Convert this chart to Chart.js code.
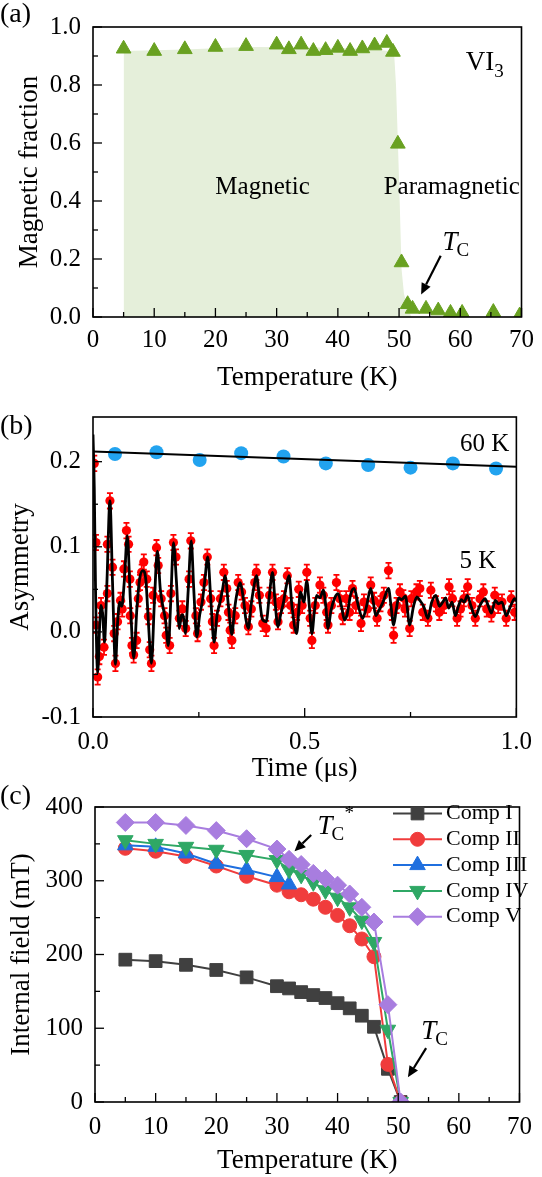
<!DOCTYPE html>
<html>
<head>
<meta charset="utf-8">
<title>VI3 muSR</title>
<script src="https://cdn.jsdelivr.net/npm/chart.js@4.4.1/dist/chart.umd.min.js"></script>
<style>
  html, body { margin: 0; padding: 0; background: #fff; }
  #page { position: relative; width: 542px; height: 1177px; overflow: hidden; }
  #page canvas { position: absolute; left: 0; }
</style>
</head>
<body>
<div id="page">
  <canvas id="panelA" width="542" height="395" style="top:0px"></canvas>
  <canvas id="panelB" width="542" height="395" style="top:390px"></canvas>
  <canvas id="panelC" width="542" height="397" style="top:780px"></canvas>
</div>
<script>
// ---------- (a) magnetic fraction vs temperature ----------
const tempA = [5, 10, 15, 20, 25, 30, 32, 34, 36, 38, 40, 42, 44, 46, 48, 49, 49.8, 50.4, 51.4, 52.2, 54.4, 56.4, 58.4, 60.3, 65.4, 69.7];
const fracA = [0.925, 0.917, 0.923, 0.931, 0.934, 0.939, 0.923, 0.939, 0.917, 0.920, 0.928, 0.917, 0.926, 0.936, 0.945, 0.914, 0.597, 0.188, 0.044, 0.028, 0.028, 0.022, 0.014, 0.014, 0.017, 0.005];
// outline of the shaded "magnetic" region
const shadeTempA = [5, 15, 25, 35, 45, 48.6, 49.2, 49.5, 49.8, 50.1, 50.4, 50.8, 51.3, 52];
const shadeFracA = [0.917, 0.922, 0.931, 0.930, 0.925, 0.916, 0.905, 0.80, 0.608, 0.40, 0.166, 0.08, 0.04, 0];
const xTicksA = [0, 10, 20, 30, 40, 50, 60, 70];
const xMinorA = [5, 15, 25, 35, 45, 55, 65];
const yTicksA = [0, 0.2, 0.4, 0.6, 0.8, 1.0];
const yMinorA = [0.1, 0.3, 0.5, 0.7, 0.9];

// ---------- (b) asymmetry vs time ----------
const time60 = [0.052, 0.15, 0.252, 0.35, 0.45, 0.55, 0.65, 0.75, 0.85, 0.952];
const asym60 = [0.209, 0.211, 0.202, 0.210, 0.206, 0.198, 0.196, 0.193, 0.198, 0.192];
const timeFit60 = [0, 1.0];
const fit60 = [0.212, 0.194];
const time5 = [
  0.003, 0.007, 0.007, 0.011, 0.015, 0.019, 0.026, 0.034, 0.034, 0.04,
  0.046, 0.05, 0.053, 0.058, 0.065, 0.069, 0.073, 0.079, 0.084, 0.087,
  0.088, 0.092, 0.096, 0.103, 0.107, 0.111, 0.115, 0.12, 0.127, 0.131,
  0.134, 0.138, 0.142, 0.15, 0.154, 0.161, 0.169, 0.173, 0.181, 0.184,
  0.19, 0.196, 0.204, 0.211, 0.219, 0.227, 0.231, 0.243, 0.247, 0.255,
  0.262, 0.27, 0.278, 0.282, 0.286, 0.293, 0.301, 0.309, 0.316, 0.32,
  0.324, 0.328, 0.336, 0.343, 0.351, 0.359, 0.367, 0.374, 0.382, 0.386,
  0.393, 0.401, 0.409, 0.417, 0.424, 0.432, 0.437, 0.444, 0.451, 0.459,
  0.467, 0.474, 0.482, 0.486, 0.494, 0.505, 0.513, 0.517, 0.525, 0.536,
  0.544, 0.552, 0.555, 0.563, 0.575, 0.583, 0.59, 0.598, 0.606, 0.613,
  0.621, 0.633, 0.64, 0.648, 0.656, 0.664, 0.671, 0.679, 0.687, 0.698,
  0.706, 0.71, 0.717, 0.725, 0.733, 0.737, 0.748, 0.752, 0.764, 0.772,
  0.779, 0.791, 0.798, 0.81, 0.818, 0.829, 0.841, 0.849, 0.86, 0.868,
  0.876, 0.885, 0.895, 0.903, 0.914, 0.922, 0.93, 0.941, 0.949, 0.957,
  0.966, 0.976, 0.988, 0.996
];
const asym5 = [
  0.198, 0.105, 0.008, -0.053, -0.029, 0.031, -0.018, 0.045, 0.103, 0.154,
  0.076, -0.002, -0.037, 0.012, 0.037, 0.027, 0.074, 0.119, 0.103, 0.062,
  0.019, -0.016, -0.027, -0.010, 0.039, 0.058, 0.070, 0.082, 0.062, 0.018,
  -0.021, -0.037, 0.043, 0.099, 0.078, 0.039, 0.019, -0.004, -0.016, 0.045,
  0.105, 0.088, 0.016, 0.027, 0.004, 0.062, 0.107, 0.019, -0.002, 0.035,
  0.058, 0.088, 0.039, 0.012, -0.016, 0.016, 0.039, 0.070, 0.051, 0.023,
  0.002, -0.010, 0.019, 0.058, 0.047, 0.031, 0.006, 0.027, 0.058, 0.070,
  0.043, 0.010, 0.004, 0.043, 0.070, 0.035, 0.012, 0.031, 0.039, 0.066,
  0.031, 0.008, 0.023, 0.050, 0.031, 0.070, 0.016, -0.010, 0.031, 0.055,
  0.043, 0.023, 0.008, 0.031, 0.058, 0.039, 0.018, 0.039, 0.023, 0.051,
  0.031, 0.010, 0.035, 0.027, 0.055, 0.037, 0.016, 0.033, 0.043, 0.072,
  0.023, -0.004, 0.031, 0.047, 0.040, 0.027, 0.004, 0.039, 0.047, 0.051,
  0.023, 0.016, 0.049, 0.033, 0.023, 0.031, 0.053, 0.039, 0.016, 0.027,
  0.039, 0.053, 0.031, 0.016, 0.039, 0.047, 0.027, 0.021, 0.043, 0.031,
  0.035, 0.016, 0.039, 0.023
];
const timeFit5 = [
  0, 0.003, 0.006, 0.011, 0.016, 0.019, 0.023, 0.027, 0.033, 0.04,
  0.046, 0.053, 0.058, 0.063, 0.068, 0.074, 0.081, 0.088, 0.096, 0.104,
  0.11, 0.118, 0.125, 0.131, 0.138, 0.145, 0.152, 0.159, 0.165, 0.171,
  0.178, 0.184, 0.19, 0.197, 0.204, 0.209, 0.213, 0.218, 0.225, 0.232,
  0.238, 0.245, 0.252, 0.258, 0.264, 0.271, 0.278, 0.286, 0.293, 0.3,
  0.306, 0.312, 0.32, 0.328, 0.334, 0.34, 0.347, 0.355, 0.361, 0.367,
  0.373, 0.379, 0.386, 0.393, 0.4, 0.409, 0.416, 0.424, 0.43, 0.437,
  0.443, 0.45, 0.457, 0.463, 0.47, 0.481, 0.49, 0.498, 0.505, 0.511,
  0.517, 0.523, 0.528, 0.536, 0.544, 0.55, 0.555, 0.562, 0.571, 0.579,
  0.587, 0.594, 0.6, 0.609, 0.617, 0.627, 0.637, 0.646, 0.656, 0.662,
  0.668, 0.675, 0.685, 0.698, 0.704, 0.71, 0.716, 0.722, 0.729, 0.738,
  0.748, 0.757, 0.765, 0.772, 0.781, 0.791, 0.8, 0.81, 0.818, 0.826,
  0.833, 0.84, 0.848, 0.856, 0.863, 0.87, 0.877, 0.884, 0.893, 0.903,
  0.913, 0.92, 0.926, 0.934, 0.941, 0.95, 0.958, 0.966, 0.976, 0.986,
  0.996, 1.0
];
const fit5 = [
  0.232, 0.170, 0.050, -0.048, 0.010, 0.031, 0.020, -0.012, 0.060, 0.154,
  0.060, -0.038, 0.010, 0.035, 0.030, 0.060, 0.113, 0.040, -0.031, 0.030,
  0.062, 0.072, 0.060, 0.010, -0.037, 0.035, 0.095, 0.050, 0.030, 0.015,
  -0.016, 0.040, 0.105, 0.060, 0.004, 0.020, 0.020, -0.002, 0.050, 0.107,
  0.050, -0.006, 0.020, 0.035, 0.060, 0.088, 0.040, -0.012, 0.020, 0.035,
  0.050, 0.066, 0.030, -0.003, 0.025, 0.045, 0.058, 0.040, 0.015, 0.004,
  0.030, 0.050, 0.066, 0.040, 0.015, 0.012, 0.040, 0.070, 0.035, 0.006,
  0.020, 0.035, 0.055, 0.066, 0.030, -0.002, 0.047, 0.035, 0.060, 0.030,
  -0.002, 0.025, 0.043, 0.040, 0.049, 0.030, 0.004, 0.025, 0.040, 0.045,
  0.030, 0.014, 0.020, 0.045, 0.051, 0.030, 0.016, 0.030, 0.051, 0.035,
  0.019, 0.025, 0.035, 0.051, 0.030, 0.008, 0.025, 0.040, 0.038, 0.042,
  0.008, 0.030, 0.041, 0.037, 0.030, 0.016, 0.035, 0.043, 0.030, 0.035,
  0.040, 0.028, 0.035, 0.019, 0.030, 0.038, 0.035, 0.043, 0.030, 0.018,
  0.030, 0.036, 0.039, 0.030, 0.022, 0.037, 0.033, 0.035, 0.019, 0.030,
  0.039, 0.036
];
const errB = 0.009;
const xTicksB = [0, 0.5, 1.0];
const xMinorB = [0.25, 0.75];
const yTicksB = [-0.1, 0, 0.1, 0.2];
const yMinorB = [-0.05, 0.05, 0.15];

// ---------- (c) internal field vs temperature ----------
const tempC = [5, 10, 15, 20, 25, 30, 32, 34, 36, 38, 40, 42, 44, 46, 48.3, 50.4];
const tempC3 = [5, 10, 15, 20, 25, 30, 32];
const compI = [193, 191, 186, 179, 169, 157, 154, 149, 145, 141, 134, 127, 117, 102, 45, 0];
const compII = [344, 340, 333, 320, 306, 294, 285, 281, 275, 264, 253, 239, 221, 197, 51, 0];
const compIII = [348, 346, 337, 323, 315, 305, 295];
const compIV = [355, 350, 346, 342, 335, 328, 315, 308, 298, 287, 277, 264, 246, 217, 98, 0];
const compV = [379, 379, 375, 368, 357, 343, 329, 322, 310, 303, 294, 282, 264, 244, 132, 0];
const compNames = ['Comp I', 'Comp II', 'Comp III', 'Comp IV', 'Comp V'];
const xTicksC = [0, 10, 20, 30, 40, 50, 60, 70];
const xMinorC = [5, 15, 25, 35, 45, 55, 65];
const yTicksC = [0, 100, 200, 300, 400];
const yMinorC = [50, 150, 250, 350];

// ---------- shared look ----------
const SERIF = "'Liberation Serif', 'Times New Roman', Times, serif";
Chart.defaults.font.family = SERIF;
Chart.defaults.color = '#000';

const pts = (xs, ys) => xs.map((v, i) => ({ x: v, y: ys[i] }));

function axes(o) {
  return {
    x: {
      type: 'linear', min: o.xMin, max: o.xMax,
      afterBuildTicks: s => { s.ticks = o.xTicks.map(v => ({ value: v })); },
      afterFit: s => { s.height = o.xHeight; },
      grid: { display: false, drawTicks: false }, border: { display: false },
      ticks: { font: { size: 25 }, padding: o.xPad, maxRotation: 0, autoSkip: false, callback: o.xFmt },
      title: { display: true, text: o.xTitle, font: { size: 27 }, padding: { top: 0, bottom: o.xTitlePad } }
    },
    y: {
      type: 'linear', min: o.yMin, max: o.yMax,
      afterBuildTicks: s => { s.ticks = o.yTicks.map(v => ({ value: v })); },
      afterFit: s => { s.width = o.yWidth; },
      grid: { display: false, drawTicks: false }, border: { display: false },
      ticks: { font: { size: 25 }, padding: o.yPad, autoSkip: false, callback: o.yFmt },
      title: { display: true, text: o.yTitle, font: { size: 27 }, padding: { top: o.yTitlePad, bottom: 0 } }
    }
  };
}

// frame + inward ticks (bottom and left only, like the original)
const frameTicks = {
  id: 'frameTicks',
  afterDraw(chart, args, opts) {
    const { ctx, chartArea: a, scales: { x, y } } = chart;
    ctx.save();
    ctx.strokeStyle = '#000';
    ctx.lineWidth = 1.3;
    const seg = (x1, y1, x2, y2) => { ctx.beginPath(); ctx.moveTo(x1, y1); ctx.lineTo(x2, y2); ctx.stroke(); };
    x.ticks.forEach(t => { const p = x.getPixelForValue(t.value); seg(p, a.bottom, p, a.bottom - 9); });
    (opts.xMinor || []).forEach(v => { const p = x.getPixelForValue(v); seg(p, a.bottom, p, a.bottom - 5); });
    y.ticks.forEach(t => { const p = y.getPixelForValue(t.value); seg(a.left, p, a.left + 9, p); });
    (opts.yMinor || []).forEach(v => { const p = y.getPixelForValue(v); seg(a.left, p, a.left + 5, p); });
    ctx.lineWidth = 1.6;
    ctx.strokeRect(a.left, a.top, a.right - a.left, a.bottom - a.top);
    ctx.restore();
  }
};

function drawTC(ctx, px, py, star) {
  ctx.textAlign = 'left';
  ctx.textBaseline = 'middle';
  ctx.font = 'italic 27px ' + SERIF;
  ctx.fillText('T', px, py);
  const w = ctx.measureText('T').width;
  ctx.font = '19px ' + SERIF;
  ctx.fillText('C', px + w - 1, py + 8);
  if (star) ctx.fillText('*', px + w + 12, py - 13);
}

function drawArrow(ctx, x1, y1, x2, y2) {
  const ang = Math.atan2(y2 - y1, x2 - x1);
  const hl = 11, hw = 5;
  const bx = x2 - Math.cos(ang) * hl, by = y2 - Math.sin(ang) * hl;
  ctx.lineWidth = 2.2;
  ctx.beginPath(); ctx.moveTo(x1, y1); ctx.lineTo(bx, by); ctx.stroke();
  ctx.beginPath();
  ctx.moveTo(x2, y2);
  ctx.lineTo(bx + Math.sin(ang) * hw, by - Math.cos(ang) * hw);
  ctx.lineTo(bx - Math.sin(ang) * hw, by + Math.cos(ang) * hw);
  ctx.closePath(); ctx.fill();
}

// labels, arrows and the legend; positions given in data units unless abs
const notes = {
  id: 'notes',
  afterDraw(chart, args, opts) {
    const { ctx, scales: { x, y } } = chart;
    const px = (v, abs) => abs ? v : x.getPixelForValue(v);
    const py = (v, abs) => abs ? v : y.getPixelForValue(v);
    ctx.save();
    ctx.fillStyle = '#000';
    ctx.strokeStyle = '#000';
    (opts.texts || []).forEach(t => {
      ctx.font = t.font;
      ctx.textAlign = t.align || 'center';
      ctx.textBaseline = 'middle';
      ctx.fillText(t.text, px(t.x, t.abs), py(t.y, t.abs));
      if (t.sub) {
        const w = ctx.measureText(t.text).width;
        ctx.font = '19px ' + SERIF;
        ctx.textAlign = 'left';
        ctx.fillText(t.sub, px(t.x, t.abs) + w, py(t.y, t.abs) + 9);
      }
    });
    (opts.tc || []).forEach(t => drawTC(ctx, px(t.x), py(t.y), t.star));
    (opts.arrows || []).forEach(r => drawArrow(ctx, px(r[0]), py(r[1]), px(r[2]), py(r[3])));
    if (opts.legend) {
      const L = opts.legend;
      L.rows.forEach((dsIndex, i) => {
        const ds = chart.data.datasets[dsIndex];
        const yy = L.top + i * L.step;
        ctx.strokeStyle = ds.borderColor;
        ctx.lineWidth = ds.borderWidth;
        ctx.beginPath(); ctx.moveTo(L.x1, yy); ctx.lineTo(L.x2, yy); ctx.stroke();
        ctx.fillStyle = ds.pointBackgroundColor;
        ctx.strokeStyle = ds.pointBackgroundColor;
        ctx.lineWidth = 1;
        Chart.helpers.drawPoint(ctx, {
          pointStyle: ds.pointStyle, radius: ds.pointRadius,
          rotation: ds.pointRotation || 0, borderWidth: 1
        }, (L.x1 + L.x2) / 2, yy);
        ctx.fillStyle = '#000';
        ctx.font = L.font;
        ctx.textAlign = 'left';
        ctx.textBaseline = 'middle';
        ctx.fillText(ds.label, L.textX, yy);
      });
    }
    ctx.restore();
  }
};

const errorBars = {
  id: 'errorBars',
  beforeDatasetDraw(chart, args) {
    const ds = chart.data.datasets[args.index];
    if (!ds.errorBar) return;
    const { ctx, scales: { x, y }, chartArea: a } = chart;
    ctx.save();
    ctx.beginPath(); ctx.rect(a.left, a.top, a.right - a.left, a.bottom - a.top); ctx.clip();
    ctx.strokeStyle = ds.pointBackgroundColor;
    ctx.lineWidth = 1.8;
    ds.data.forEach(p => {
      const xp = x.getPixelForValue(p.x);
      const y1 = y.getPixelForValue(p.y - ds.errorBar);
      const y2 = y.getPixelForValue(p.y + ds.errorBar);
      ctx.beginPath();
      ctx.moveTo(xp, y1); ctx.lineTo(xp, y2);
      ctx.moveTo(xp - 3, y1); ctx.lineTo(xp + 3, y1);
      ctx.moveTo(xp - 3, y2); ctx.lineTo(xp + 3, y2);
      ctx.stroke();
    });
    ctx.restore();
  }
};

const baseOpts = {
  responsive: false, maintainAspectRatio: false, animation: false, events: []
};

// ---------- panel (a) ----------
new Chart(document.getElementById('panelA'), {
  type: 'scatter',
  data: {
    datasets: [
      {
        label: 'VI3', data: pts(tempA, fracA), order: 0, clip: 0,
        pointStyle: 'triangle', pointRadius: 8.5, pointBorderWidth: 1,
        pointBackgroundColor: '#69a121', pointBorderColor: '#69a121'
      },
      {
        type: 'line', label: 'magnetic region', data: pts(shadeTempA, shadeFracA), order: 1,
        fill: 'origin', backgroundColor: 'rgb(229,239,218)', borderWidth: 0, pointRadius: 0, tension: 0
      }
    ]
  },
  options: {
    ...baseOpts,
    layout: { padding: { left: 0, right: 16, top: 15, bottom: 0 } },
    scales: axes({
      xMin: 0, xMax: 70, xTicks: xTicksA, xHeight: 78, xPad: 8, xTitlePad: 1, xTitle: 'Temperature (K)', xFmt: v => String(v),
      yMin: 0, yMax: 1.0, yTicks: yTicksA, yWidth: 93, yPad: 12, yTitlePad: 14, yTitle: 'Magnetic fraction', yFmt: v => v.toFixed(1)
    }),
    plugins: {
      legend: { display: false }, tooltip: { enabled: false },
      frameTicks: { xMinor: xMinorA, yMinor: yMinorA },
      notes: {
        texts: [
          { text: '(a)', x: 0, y: 15, abs: true, align: 'left', font: '28px ' + SERIF },
          { text: 'VI', sub: '3', x: 60.9, y: 0.877, align: 'left', font: '27px ' + SERIF },
          { text: 'Magnetic', x: 27.7, y: 0.448, font: '25px ' + SERIF },
          { text: 'Paramagnetic', x: 58.6, y: 0.448, font: '25px ' + SERIF }
        ],
        tc: [{ x: 57.1, y: 0.255 }],
        arrows: [[56.8, 0.211, 53.6, 0.078]]
      }
    }
  },
  plugins: [frameTicks, notes]
});

// ---------- panel (b) ----------
new Chart(document.getElementById('panelB'), {
  type: 'scatter',
  data: {
    datasets: [
      {
        type: 'line', label: '60 K fit', data: pts(timeFit60, fit60), order: 0,
        borderColor: '#000', borderWidth: 2, pointRadius: 0, fill: false
      },
      {
        type: 'line', label: '5 K fit', data: pts(timeFit5, fit5), order: 1,
        borderColor: '#000', borderWidth: 2.8, pointRadius: 0, fill: false, cubicInterpolationMode: 'monotone'
      },
      {
        label: '60 K', data: pts(time60, asym60), order: 2,
        pointStyle: 'circle', pointRadius: 7, pointBorderWidth: 0,
        pointBackgroundColor: '#22a3ef'
      },
      {
        label: '5 K', data: pts(time5, asym5), order: 3, errorBar: errB,
        pointStyle: 'circle', pointRadius: 4.6, pointBorderWidth: 0,
        pointBackgroundColor: '#ff0000'
      }
    ]
  },
  options: {
    ...baseOpts,
    layout: { padding: { left: 0, right: 17, top: 25, bottom: 0 } },
    scales: axes({
      xMin: 0, xMax: 1.0, xTicks: xTicksB, xHeight: 68, xPad: 10, xTitlePad: 0, xTitle: 'Time (\u03bcs)', xFmt: v => v.toFixed(1),
      yMin: -0.1, yMax: 0.2525, yTicks: yTicksB, yWidth: 93, yPad: 12, yTitlePad: 5, yTitle: 'Asymmetry', yFmt: v => v.toFixed(1)
    }),
    plugins: {
      legend: { display: false }, tooltip: { enabled: false },
      frameTicks: { xMinor: xMinorB, yMinor: yMinorB },
      notes: {
        texts: [
          { text: '(b)', x: 0, y: 37, abs: true, align: 'left', font: '28px ' + SERIF },
          { text: '60 K', x: 0.925, y: 0.22, font: '25px ' + SERIF },
          { text: '5 K', x: 0.909, y: 0.083, font: '25px ' + SERIF }
        ]
      }
    }
  },
  plugins: [errorBars, frameTicks, notes]
});

// ---------- panel (c) ----------
const compColors = ['#404040', '#f03c3c', '#1f6fdf', '#2fa865', '#a87ddf'];
function compSet(i, xs, ys, style, radius, rotation) {
  return {
    type: 'line', label: compNames[i], data: pts(xs, ys), order: 4 - i, clip: 0,
    borderColor: compColors[i], borderWidth: 2, fill: false, tension: 0,
    pointStyle: style, pointRadius: radius, pointRotation: rotation, pointBorderWidth: 1,
    pointBackgroundColor: compColors[i], pointBorderColor: compColors[i]
  };
}
new Chart(document.getElementById('panelC'), {
  type: 'scatter',
  data: {
    datasets: [
      compSet(0, tempC, compI, 'rect', 9, 0),
      compSet(1, tempC, compII, 'circle', 7, 0),
      compSet(2, tempC3, compIII, 'triangle', 9, 0),
      compSet(3, tempC, compIV, 'triangle', 9, 180),
      compSet(4, tempC, compV, 'rectRot', 9, 0)
    ]
  },
  options: {
    ...baseOpts,
    layout: { padding: { left: 0, right: 15, top: 19.5, bottom: 0 } },
    scales: axes({
      xMin: 0, xMax: 70, xTicks: xTicksC, xHeight: 75, xPad: 10, xTitlePad: 0, xTitle: 'Temperature (K)', xFmt: v => String(v),
      yMin: 0, yMax: 400, yTicks: yTicksC, yWidth: 95, yPad: 12, yTitlePad: 6, yTitle: 'Internal field (mT)', yFmt: v => String(v)
    }),
    plugins: {
      legend: { display: false }, tooltip: { enabled: false },
      frameTicks: { xMinor: xMinorC, yMinor: yMinorC },
      notes: {
        texts: [
          { text: '(c)', x: 0, y: 17, abs: true, align: 'left', font: '28px ' + SERIF }
        ],
        tc: [{ x: 36.7, y: 373, star: true }, { x: 53.8, y: 95 }],
        arrows: [[35.65, 362, 32.9, 340], [54.6, 73, 51.6, 33.5]],
        legend: { rows: [0, 1, 2, 3, 4], top: 33.5, step: 25.8, x1: 393, x2: 442, textX: 446, font: '22px ' + SERIF }
      }
    }
  },
  plugins: [frameTicks, notes]
});
</script>
</body>
</html>
